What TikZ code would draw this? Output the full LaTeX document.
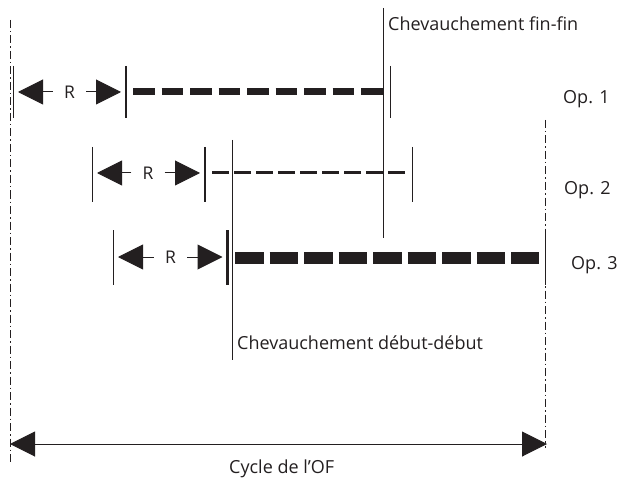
\documentclass[tikz,border=0pt]{standalone}
\usepackage{fontspec}
\setmainfont{Open Sans}
\usetikzlibrary{arrows.meta}
\definecolor{ink}{HTML}{231F20}
\begin{document}
\begin{tikzpicture}[x=1pt,y=-1pt,
  ink/.style={draw=ink,line width=1pt},
  thintick/.style={ink,line width=1pt},
  thicktick/.style={ink,line width=2.8pt},
  axisline/.style={draw=ink,line width=0.9pt,dash pattern=on 8pt off 3pt on 1.5pt off 3pt},
  rlabel/.style={inner sep=0pt,minimum width=33pt,minimum height=12pt,text=ink,font=\fontsize{17.5}{20}\selectfont},
  txt/.style={inner sep=0pt,anchor=base west,text=ink,font=\fontsize{18}{21}\selectfont},
  rarrow/.style={ink,-{Triangle[length=25pt,width=25pt]},shorten >=5pt},
  cyclearrow/.style={ink,{Triangle[length=25pt,width=25pt]}-{Triangle[length=25pt,width=25pt]}},
  bar1/.style={draw=ink,line width=7pt,dash pattern=on 21.5pt off 7pt},
  bar2/.style={draw=ink,line width=3pt,dash pattern=on 17pt off 5pt},
  bar3/.style={draw=ink,line width=12pt,dash pattern=on 28.5pt off 6pt}]
\useasboundingbox (0,0) rectangle (617,478);

% cycle boundaries
\coordinate (cycTop) at (10,20);
\coordinate (cycBot) at (10,463);
\coordinate (endTop) at (545,120);
\coordinate (endBot) at (545,448);
\draw[axisline] (cycTop) -- (cycBot);
\draw[axisline] (endTop) -- (endBot);

% overlap markers
\coordinate (ffTop) at (383,8);
\coordinate (ffBot) at (383,238);
\coordinate (ddTop) at (232,140);
\coordinate (ddBot) at (232,360);
\draw[thintick] (ffTop) -- (ffBot);
\draw[thintick] (ddTop) -- (ddBot);
\node[txt] (ff) at (388,31) {Chevauchement fin-fin};
\node[txt] (dd) at (237,349) {Chevauchement début-début};

% operation 1
\coordinate (s1a) at (13,66);  \coordinate (s1b) at (13,118);
\coordinate (b1a) at (126,66); \coordinate (b1b) at (126,118);
\coordinate (e1a) at (390,66); \coordinate (e1b) at (390,118);
\coordinate (s1) at (13,92); \coordinate (b1) at (126,92);
\coordinate (d1s) at (133,92); \coordinate (d1e) at (383,92);
\draw[thintick] (s1a) -- (s1b);
\draw[thicktick] (b1a) -- (b1b);
\draw[thintick] (e1a) -- (e1b);
\node[rlabel] (r1) at (69.5,92) {R};
\draw[rarrow] (r1.west) -- (s1);
\draw[rarrow] (r1.east) -- (b1);
\draw[bar1] (d1s) -- (d1e);
\node[txt] (op1) at (563,104) {Op. 1};

% operation 2
\coordinate (s2a) at (92,147);  \coordinate (s2b) at (92,202);
\coordinate (b2a) at (205,147); \coordinate (b2b) at (205,202);
\coordinate (e2a) at (412,147); \coordinate (e2b) at (412,202);
\coordinate (s2) at (92,173); \coordinate (b2) at (205,173);
\coordinate (d2s) at (212,173); \coordinate (d2e) at (406,173);
\draw[thintick] (s2a) -- (s2b);
\draw[thicktick] (b2a) -- (b2b);
\draw[thintick] (e2a) -- (e2b);
\node[rlabel] (r2) at (148,173) {R};
\draw[rarrow] (r2.west) -- (s2);
\draw[rarrow] (r2.east) -- (b2);
\draw[bar2] (d2s) -- (d2e);
\node[txt] (op2) at (564,194) {Op. 2};

% operation 3
\coordinate (s3a) at (113,230);  \coordinate (s3b) at (113,285);
\coordinate (b3a) at (227.5,230); \coordinate (b3b) at (227.5,285);
\coordinate (e3a) at (545,230); \coordinate (e3b) at (545,285);
\coordinate (s3) at (113,257); \coordinate (b3) at (227.5,257);
\coordinate (d3s) at (235,258); \coordinate (d3e) at (539,258);
\draw[thintick] (s3a) -- (s3b);
\draw[thicktick] (b3a) -- (b3b);
\draw[thintick] (e3a) -- (e3b);
\node[rlabel] (r3) at (170.5,257) {R};
\draw[rarrow] (r3.west) -- (s3);
\draw[rarrow] (r3.east) -- (b3);
\draw[bar3] (d3s) -- (d3e);
\node[txt] (op3) at (571,269) {Op. 3};

% order cycle
\coordinate (cycL) at (10,444);
\coordinate (cycR) at (547,444);
\draw[cyclearrow] (cycL) -- (cycR);
\node[txt] (cyc) at (229,473) {Cycle de l’OF};
\end{tikzpicture}
\end{document}
